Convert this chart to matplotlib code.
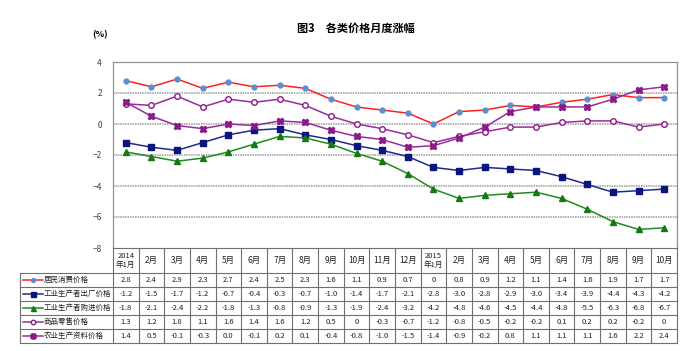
"""
各类价格月度涨幅 line chart with data table underneath.
"""
import matplotlib.pyplot as plt

plt.rcParams["font.family"] = ["Noto Sans CJK SC", "DejaVu Sans"]

months = ["2014\n年1月", "2月", "3月", "4月", "5月", "6月", "7月", "8月", "9月",
          "10月", "11月", "12月", "2015\n年1月", "2月", "3月", "4月", "5月", "6月",
          "7月", "8月", "9月", "10月"]

# values kept as printed in the source table (e.g. "0" vs "0.0")
cpi = ["2.8", "2.4", "2.9", "2.3", "2.7", "2.4", "2.5", "2.3", "1.6", "1.1", "0.9",
       "0.7", "0", "0.8", "0.9", "1.2", "1.1", "1.4", "1.6", "1.9", "1.7", "1.7"]
ppi_out = ["-1.2", "-1.5", "-1.7", "-1.2", "-0.7", "-0.4", "-0.3", "-0.7", "-1.0",
           "-1.4", "-1.7", "-2.1", "-2.8", "-3.0", "-2.8", "-2.9", "-3.0", "-3.4",
           "-3.9", "-4.4", "-4.3", "-4.2"]
ppi_in = ["-1.8", "-2.1", "-2.4", "-2.2", "-1.8", "-1.3", "-0.8", "-0.9", "-1.3",
          "-1.9", "-2.4", "-3.2", "-4.2", "-4.8", "-4.6", "-4.5", "-4.4", "-4.8",
          "-5.5", "-6.3", "-6.8", "-6.7"]
retail = ["1.3", "1.2", "1.8", "1.1", "1.6", "1.4", "1.6", "1.2", "0.5", "0", "-0.3",
          "-0.7", "-1.2", "-0.8", "-0.5", "-0.2", "-0.2", "0.1", "0.2", "0.2", "-0.2",
          "0"]
agri = ["1.4", "0.5", "-0.1", "-0.3", "0.0", "-0.1", "0.2", "0.1", "-0.4", "-0.8",
        "-1.0", "-1.5", "-1.4", "-0.9", "-0.2", "0.8", "1.1", "1.1", "1.1", "1.6",
        "2.2", "2.4"]

series = [
    ("居民消费价格", cpi, dict(color="#FF2020", marker="o", ms=3.5,
                              mfc="#5B8FD0", mec="#5B8FD0")),
    ("工业生产者出厂价格", ppi_out, dict(color="#1F2A8C", marker="s", ms=4.5,
                                  mfc="#0A1580", mec="#0A1580")),
    ("工业生产者购进价格", ppi_in, dict(color="#1E8C1E", marker="^", ms=4.5,
                                  mfc="#137A13", mec="#137A13")),
    ("商品零售价格", retail, dict(color="#9A2C9A", marker="o", ms=4,
                                mfc="white", mec="#8A1A8A", mew=1)),
    ("农业生产资料价格", agri, dict(color="#9A2C9A", marker="X", ms=5,
                                  mfc="#8A1A8A", mec="#8A1A8A")),
]

W, H = 689, 351
fig = plt.figure(figsize=(W / 100, H / 100), dpi=100)

x_left, x_right, y_top, y_bot = 113, 677, 62, 248
ax = fig.add_axes([x_left / W, 1 - y_bot / H, (x_right - x_left) / W,
                   (y_bot - y_top) / H])
n = len(months)
ax.set_xlim(-0.5, n - 0.5)
ax.set_ylim(-8, 4)
ax.set_yticks(range(-8, 5, 2))
ax.set_xticks([])
ax.tick_params(axis="y", labelsize=6, colors="#404040", length=0, pad=8)
for s in ax.spines.values():
    s.set_color("#909090")
    s.set_linewidth(0.9)
ax.spines["bottom"].set_visible(False)
for yv in (2, 0, -2, -4, -6):
    ax.axhline(yv, color="#9A9A9A", lw=1.1, ls=(0, (1, 0.6)), zorder=1)

for name, vals, style in series:
    ax.plot(range(n), [float(v) for v in vals], lw=1.1, zorder=3, **style)

fig.text(356 / W, 1 - 28 / H, "图3　各类价格月度涨幅", ha="center", va="center",
         fontsize=8, fontweight="bold")
fig.text(100 / W, 1 - 35 / H, "(%)", ha="center", va="center", fontsize=6.5,
         fontweight="bold")

# data table drawn in figure pixel coordinates
tab = fig.add_axes([0, 0, 1, 1], facecolor="none")
tab.set_xlim(0, W)
tab.set_ylim(H, 0)
tab.axis("off")
colw = (x_right - x_left) / n
head_top, head_bot, row_h = 248, 273, 14
n_rows = len(series)
tab_bot = head_bot + n_rows * row_h
lc = "#707070"

tab.plot([x_left, x_right], [head_top, head_top], color=lc, lw=0.8)
for i in range(n + 1):
    xx = x_left + i * colw
    tab.plot([xx, xx], [head_top, tab_bot], color=lc, lw=0.8)
tab.plot([20, 20], [head_bot, tab_bot], color=lc, lw=0.8)
for r in range(n_rows + 1):
    yy = head_bot + r * row_h
    tab.plot([20, x_right], [yy, yy], color=lc, lw=0.8)

for i, m in enumerate(months):
    tab.text(x_left + (i + 0.5) * colw, (head_top + head_bot) / 2, m,
             ha="center", va="center", fontsize=5.5 if "\n" in m else 6,
             linespacing=1.1, color="#202020")

for r, (name, vals, style) in enumerate(series):
    yc = head_bot + (r + 0.5) * row_h
    tab.plot([23, 43], [yc, yc], color=style["color"], lw=1.1)
    tab.plot([33], [yc], marker=style["marker"], ms=style["ms"] * 0.8,
             mfc=style["mfc"], mec=style["mec"], ls="none")
    tab.text(44, yc, name, ha="left", va="center", fontsize=5.4, color="#202020")
    for i, v in enumerate(vals):
        tab.text(x_left + (i + 0.5) * colw, yc, v,
                 ha="center", va="center", fontsize=5.5, color="#202020")

fig.savefig("out.png", dpi=100)
